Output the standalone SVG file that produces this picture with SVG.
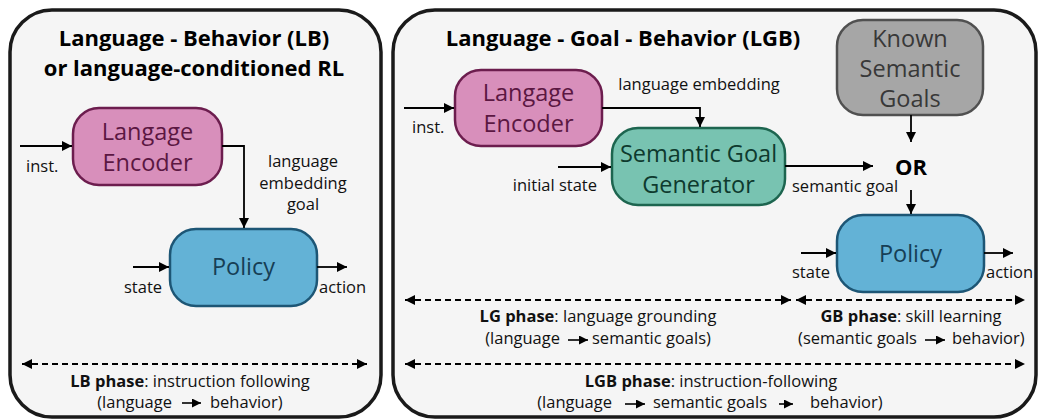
<svg xmlns="http://www.w3.org/2000/svg" width="1038" height="420" viewBox="0 0 1038 420">
<defs>
<marker id="ah" viewBox="0 0 10 10" refX="10" refY="5" markerWidth="10" markerHeight="10" markerUnits="userSpaceOnUse" orient="auto-start-reverse"><path d="M0,0 L10,5 L0,10 z" fill="#000"/></marker>
<marker id="ahs" viewBox="0 0 10 10" refX="10" refY="5" markerWidth="9" markerHeight="9" markerUnits="userSpaceOnUse" orient="auto"><path d="M0,0 L10,5 L0,10 z" fill="#000"/></marker>
</defs>
<style>
.panel{fill:#f5f5f5;stroke:#1a1a1a;stroke-width:3.5}
.title{font-family:"Open Sans","Noto Sans",sans-serif;font-weight:bold;font-size:22px;fill:#000;text-anchor:middle}
.t{font-family:"Open Sans","Noto Sans",sans-serif;font-size:16.5px;fill:#111}
.b{font-weight:bold}
.node{font-family:"Open Sans","Noto Sans",sans-serif;font-size:23.5px;text-anchor:middle}
.enc rect{fill:#d88fbb;stroke:#6c1d4e;stroke-width:2.5}
.enc text{fill:#5b1742}
.pol rect{fill:#63b2d6;stroke:#1d5675;stroke-width:2.5}
.pol text{fill:#163e55}
.sgg rect{fill:#78c3b1;stroke:#1d654f;stroke-width:2.5}
.sgg text{fill:#0e3a2e}
.known rect{fill:#a6a6a6;stroke:#505050;stroke-width:2.5}
.known text{fill:#383838}
.c{fill:none;stroke:#000;stroke-width:1.8;marker-end:url(#ah)}
.d{fill:none;stroke:#000;stroke-width:1.8;stroke-dasharray:6 4;marker-start:url(#ah);marker-end:url(#ah)}
.s{fill:none;stroke:#000;stroke-width:1.6;marker-end:url(#ahs)}
</style>

<g id="panel-lb">
<rect class="panel" x="10" y="10" width="371" height="407" rx="42"/>
<text class="title" x="194" y="46">Language - Behavior (LB)</text>
<text class="title" x="194" y="76">or language-conditioned RL</text>
</g>
<g id="panel-lgb">
<rect class="panel" x="393" y="10" width="643" height="407" rx="42"/>
<text class="title" x="623" y="46">Language - Goal - Behavior (LGB)</text>
</g>

<g id="lb-encoder" class="enc node">
<rect x="73" y="108" width="149" height="77" rx="26"/>
<text x="147.5" y="140">Langage</text>
<text x="147.5" y="171">Encoder</text>
</g>
<g id="lb-policy" class="pol node">
<rect x="170" y="229" width="147" height="77" rx="26"/>
<text x="243.5" y="275">Policy</text>
</g>

<g id="lgb-encoder" class="enc node">
<rect x="455" y="70" width="147" height="76" rx="26"/>
<text x="528.5" y="101">Langage</text>
<text x="528.5" y="132">Encoder</text>
</g>
<g id="lgb-generator" class="sgg node">
<rect x="612" y="128" width="173" height="77" rx="26"/>
<text x="698.5" y="162">Semantic Goal</text>
<text x="698.5" y="193">Generator</text>
</g>
<g id="lgb-known" class="known node">
<rect x="837" y="20" width="146" height="95" rx="26"/>
<text x="910" y="47">Known</text>
<text x="910" y="77">Semantic</text>
<text x="910" y="107">Goals</text>
</g>
<g id="lgb-or">
<text class="title" x="911" y="175">OR</text>
</g>
<g id="lgb-policy" class="pol node">
<rect x="837" y="215" width="147" height="77" rx="26"/>
<text x="910.5" y="262">Policy</text>
</g>

<g id="connectors">
<path class="c" d="M20,146 H72"/>
<path class="c" d="M222,146 H244 V228"/>
<path class="c" d="M133,267 H169"/>
<path class="c" d="M317,267 H347"/>
<path class="d" d="M22,364 H367"/>

<path class="c" d="M404,108 H454"/>
<path class="c" d="M602,108 H700 V127"/>
<path class="c" d="M558,167 H611"/>
<path class="c" d="M785,166 H873"/>
<path class="c" d="M911,115 V142"/>
<path class="c" d="M911,190 V214"/>
<path class="c" d="M801,253 H836"/>
<path class="c" d="M984,253 H1013"/>
<path class="d" d="M405,300 H791"/>
<path class="d" d="M796,300 H1025"/>
<path class="d" d="M405,364 H1025"/>

<path class="s" d="M182,403 H201"/>
<path class="s" d="M568,340 H588"/>
<path class="s" d="M925,340 H945"/>
<path class="s" d="M625,404 H645"/>
<path class="s" d="M779,404 H793"/>
</g>

<g id="labels" class="t">
<text x="26" y="172">inst.</text>
<text x="303" y="167" text-anchor="middle">language</text>
<text x="303" y="189" text-anchor="middle">embedding</text>
<text x="303" y="210" text-anchor="middle">goal</text>
<text x="143" y="293" text-anchor="middle">state</text>
<text x="319" y="293">action</text>
<text x="190" y="387" text-anchor="middle"><tspan class="b">LB phase</tspan>: instruction following</text>
<text x="172" y="408" text-anchor="end">(language</text>
<text x="210" y="408">behavior)</text>

<text x="412" y="133">inst.</text>
<text x="699" y="90" text-anchor="middle">language embedding</text>
<text x="597" y="191" text-anchor="end">initial state</text>
<text x="792" y="192">semantic goal</text>
<text x="811" y="278" text-anchor="middle">state</text>
<text x="986" y="278">action</text>
<text x="598" y="322" text-anchor="middle"><tspan class="b">LG phase</tspan>: language grounding</text>
<text x="560" y="344" text-anchor="end">(language</text>
<text x="592" y="344">semantic goals)</text>
<text x="911" y="322" text-anchor="middle"><tspan class="b">GB phase</tspan>: skill learning</text>
<text x="917" y="344" text-anchor="end">(semantic goals</text>
<text x="952" y="344">behavior)</text>
<text x="711" y="387" text-anchor="middle"><tspan class="b">LGB phase</tspan>: instruction-following</text>
<text x="612" y="408" text-anchor="end">(language</text>
<text x="653" y="408">semantic goals</text>
<text x="810" y="408">behavior)</text>
</g>
</svg>
